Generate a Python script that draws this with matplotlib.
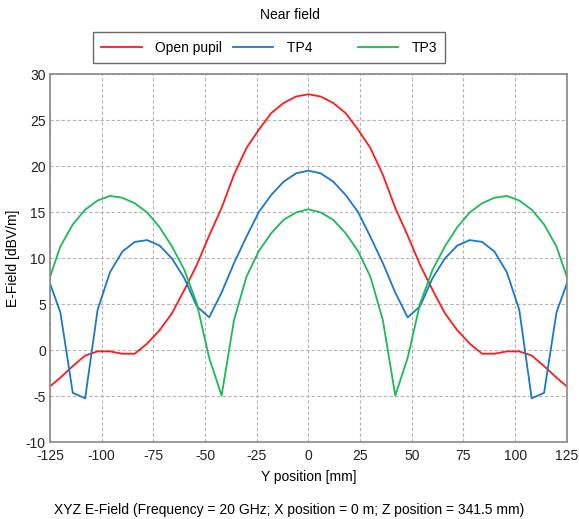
import matplotlib
import matplotlib.pyplot as plt
import numpy as np

matplotlib.use('Agg')

plt.rcParams['font.family'] = ['Liberation Sans', 'DejaVu Sans']
plt.rcParams['axes.unicode_minus'] = False

# Y position [mm], sampled every 6 mm
y_pos = np.arange(-126, 127, 6)

open_pupil = [-4.1, -2.95, -1.7, -0.55, -0.1, -0.1, -0.35, -0.35, 0.75, 2.2, 4.05,
              6.6, 9.3, 12.5, 15.5, 19.1, 22.0, 24.0, 25.8, 26.9, 27.6, 27.85,
              27.6, 26.9, 25.8, 24.0, 22.0, 19.1, 15.5, 12.5, 9.3, 6.6, 4.05,
              2.2, 0.75, -0.35, -0.35, -0.1, -0.1, -0.55, -1.7, -2.95, -4.1]

tp4 = [7.9, 4.15, -4.6, -5.2, 4.4, 8.5, 10.75, 11.8, 12.0, 11.4, 10.0,
       7.85, 4.8, 3.6, 6.3, 9.5, 12.35, 15.05, 16.9, 18.35, 19.25, 19.55,
       19.25, 18.35, 16.9, 15.05, 12.35, 9.5, 6.3, 3.6, 4.8, 7.85, 10.0,
       11.4, 12.0, 11.8, 10.75, 8.5, 4.4, -5.2, -4.6, 4.15, 7.9]

tp3 = [7.35, 11.3, 13.7, 15.3, 16.3, 16.8, 16.6, 16.0, 15.0, 13.4, 11.3,
       8.75, 5.1, -0.8, -4.9, 3.3, 8.0, 10.8, 12.75, 14.2, 15.0, 15.35,
       15.0, 14.2, 12.75, 10.8, 8.0, 3.3, -4.9, -0.8, 5.1, 8.75, 11.3,
       13.4, 15.0, 16.0, 16.6, 16.8, 16.3, 15.3, 13.7, 11.3, 7.35]

fig = plt.figure(figsize=(5.79, 5.19), dpi=100)
ax = fig.add_axes([0.0864, 0.1474, 0.8926, 0.7091])

ax.plot(y_pos, open_pupil, color='#ff1a1a', linewidth=1.3, label='Open pupil')
ax.plot(y_pos, tp4, color='#1a78c8', linewidth=1.3, label='TP4')
ax.plot(y_pos, tp3, color='#1db954', linewidth=1.3, label='TP3')

ax.set_xlim(-125, 125)
ax.set_ylim(-10, 30)
ax.set_xticks(np.arange(-125, 126, 25))
ax.set_yticks(np.arange(-10, 31, 5))
ax.tick_params(length=0, labelsize=10, pad=3, colors='#222222')
ax.tick_params(axis='x', pad=5)
ax.grid(True, color='#b4b4b4', linestyle=(0, (3, 2)), linewidth=0.8)
for s in ax.spines.values():
    s.set_color('#888888')
    s.set_linewidth(1.2)

ax.set_xlabel('Y position [mm]', fontsize=10, labelpad=5)
ax.set_ylabel('E-Field [dBV/m]', fontsize=10, labelpad=4)

fig.text(0.5, 0.972, 'Near field', ha='center', va='center', fontsize=10)
fig.text(0.5, 0.017, 'XYZ E-Field (Frequency = 20 GHz; X position = 0 m; Z position = 341.5 mm)',
         ha='center', va='center', fontsize=10)

leg = fig.legend(loc='center', bbox_to_anchor=(0.465, 0.908), ncol=3, fontsize=10,
                 frameon=True, fancybox=False, edgecolor='#444444', handlelength=2.9,
                 columnspacing=0.8, borderpad=0.6, handletextpad=0.95)
leg.get_frame().set_linewidth(1.0)
leg.texts[1].set_text('TP4' + ' ' * 9)

plt.savefig('out.png', dpi=100)
